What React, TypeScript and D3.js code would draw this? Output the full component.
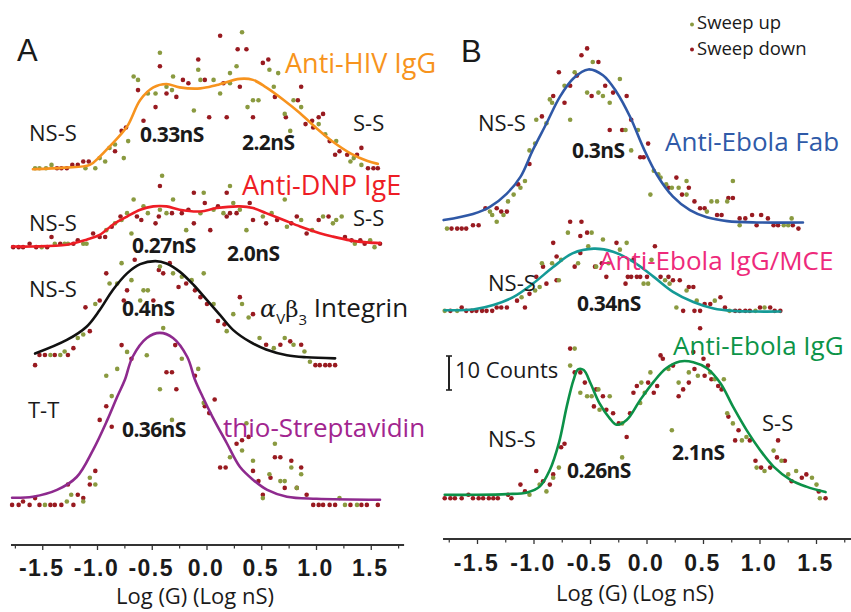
import React from "react";
import * as d3 from "d3";

type P = [number, number];

// ---------- axis ----------
const tickValues = [-1.5, -1.0, -0.5, 0.0, 0.5, 1.0, 1.5];
const tickLabels = ["-1.5", "-1.0", "-0.5", "0.0", "0.5", "1.0", "1.5"];
const minorTickValues = [-1.75, -1.25, -0.75, -0.25, 0.25, 0.75, 1.25, 1.75];
const xLabel = "Log (G) (Log nS)";
const legendLabels = ["Sweep up", "Sweep down"];

// ---------- Panel A ----------
const hivFit: P[] = [[-1.59,-0.3],[-1.3,0.2],[-1.07,1.0],[-0.98,3.4],[-0.89,6.4],[-0.73,12.3],[-0.61,20.1],[-0.49,23.8],[-0.37,24.8],[-0.25,23.8],[-0.06,23.5],[0.09,24.5],[0.30,26.3],[0.42,26],[0.54,23.8],[0.70,20.1],[0.85,16.2],[1.00,11.8],[1.15,7.8],[1.31,4.4],[1.46,2.2],[1.56,1.3]];
const hivUp: P[] = [[-1.57,0],[-1.53,0],[-1.47,0],[-1.42,1],[-1.11,0],[-1.02,0],[-0.98,3],[-0.93,2],[-0.89,6],[-0.84,7],[-0.76,3],[-0.72,8],[-0.67,27],[-0.63,26],[-0.54,22],[-0.47,22],[-0.43,34],[-0.37,24],[-0.32,23],[-0.31,27],[-0.12,17],[-0.08,29],[-0.06,26],[0.06,26],[0.12,22],[0.21,25],[0.21,28],[0.27,30],[0.32,40],[0.37,18],[0.42,20],[0.47,20],[0.57,29],[0.61,24],[0.65,28],[0.71,16],[0.76,11],[0.79,20],[0.86,18],[1.02,13],[1.08,10],[1.18,8],[1.31,2],[1.34,3],[1.41,1]];
const hivDown: P[] = [[-1.37,0],[-1.33,0],[-1.28,0],[-1.23,1],[-1.18,1],[-1.13,2],[-1.08,2],[-0.84,5],[-0.78,11],[-0.74,12],[-0.63,23],[-0.58,14],[-0.47,18],[-0.43,30],[-0.37,22],[-0.28,21],[-0.22,26],[-0.17,25],[-0.08,32],[-0.02,26],[0.02,15],[0.12,39],[0.15,25],[0.18,15],[0.28,35],[0.30,24],[0.36,35],[0.42,15],[0.51,31],[0.56,32],[0.62,21],[0.72,15],[0.83,20],[0.86,24],[0.90,13],[0.96,14],[0.97,12],[1.02,15],[1.06,16],[1.12,8],[1.17,4],[1.21,5],[1.28,4],[1.37,4],[1.41,6],[1.47,0],[1.52,0],[1.56,0]];

const dnpFit: P[] = [[-1.78,0.2],[-1.59,0.2],[-1.28,0.7],[-1.10,2.2],[-0.98,3.6],[-0.86,6.6],[-0.73,9.0],[-0.61,11.0],[-0.49,12.0],[-0.37,12.0],[-0.25,11.0],[-0.06,10.5],[0.09,11.5],[0.30,12.0],[0.42,11.5],[0.54,10.0],[0.70,8.0],[0.85,6.1],[1.03,4.1],[1.15,3.1],[1.31,2.0],[1.46,1.4],[1.58,1.2]];
const dnpUp: P[] = [[-1.51,0],[-1.39,1],[-1.30,1],[-1.27,1],[-1.13,1],[-1.10,1],[-0.92,5],[-0.84,7],[-0.78,8],[-0.73,10],[-0.69,4],[-0.67,14],[-0.58,12],[-0.54,10],[-0.43,11],[-0.41,21],[-0.37,10],[-0.31,14],[-0.19,5],[-0.06,10],[-0.03,16],[0.06,11],[0.15,10],[0.21,18],[0.24,13],[0.30,11],[0.36,5],[0.51,9],[0.59,10],[0.71,14],[0.73,6],[0.86,8],[0.96,5],[1.06,9],[1.15,7],[1.18,8],[1.23,9],[1.35,1],[1.49,2],[1.53,0]];
const dnpDown: P[] = [[-1.77,0],[-1.72,0],[-1.68,0],[-1.62,1],[-1.56,0],[-1.46,0],[-1.42,3],[-1.34,1],[-1.22,1],[-1.18,2],[-1.04,4],[-0.98,3],[-0.93,3],[-0.87,6],[-0.79,9],[-0.64,9],[-0.60,8],[-0.47,7],[-0.44,9],[-0.43,18],[-0.32,10],[-0.23,10],[-0.17,11],[-0.12,7],[-0.12,16],[-0.02,13],[0.03,5],[0.10,12],[0.18,9],[0.18,16],[0.21,10],[0.27,10],[0.39,13],[0.42,8],[0.54,7],[0.64,8],[0.77,7],[0.82,9],[0.91,4],[1.02,8],[1.11,9],[1.26,3],[1.32,2],[1.40,2],[1.44,1],[1.58,1]];

const itgFit: P[] = [[-1.57,3.4],[-1.28,7.4],[-1.10,11.3],[-0.98,16.2],[-0.86,22.1],[-0.73,27],[-0.61,29.7],[-0.47,30.6],[-0.37,29.9],[-0.25,27.5],[-0.12,23.5],[0,19.1],[0.12,14.7],[0.24,10.3],[0.39,6.9],[0.54,4.6],[0.73,2.9],[0.91,2.3],[1.17,2.0]];
const itgUp: P[] = [[-1.43,3],[-1.34,3],[-1.30,4],[-1.18,8],[-1.13,9],[-1.02,18],[-0.89,24],[-0.82,24],[-0.78,30],[-0.69,25],[-0.61,19],[-0.58,22],[-0.54,22],[-0.43,29],[-0.31,27],[-0.23,26],[-0.14,25],[-0.03,27],[0.06,18],[0.18,10],[0.24,15],[0.32,18],[0.38,14],[0.48,8],[0.61,5],[0.71,8],[0.79,6],[0.89,4],[0.94,1]];
const itgDown: P[] = [[-1.57,0],[-1.53,3],[-1.48,3],[-1.39,3],[-1.27,3],[-1.22,5],[-1.11,17],[-1.07,10],[-0.98,19],[-0.92,27],[-0.76,19],[-0.73,22],[-0.66,31],[-0.49,19],[-0.44,28],[-0.40,27],[-0.34,30],[-0.26,23],[-0.19,24],[-0.11,22],[-0.06,20],[0,18],[0.10,13],[0.16,12],[0.30,20],[0.42,15],[0.54,6],[0.67,6],[0.76,7],[0.86,6],[0.99,0],[1.03,0],[1.08,0],[1.12,0],[1.17,0]];

const strFit: P[] = [[-1.78,2.1],[-1.59,2.4],[-1.37,4.4],[-1.19,8.2],[-1.04,16.2],[-0.91,25],[-0.82,31.8],[-0.75,36.8],[-0.68,43.5],[-0.55,49.1],[-0.43,50.6],[-0.31,49.1],[-0.18,43.5],[-0.11,36.8],[-0.04,31.8],[0.05,25.9],[0.18,18.2],[0.30,11.2],[0.42,7.4],[0.55,4.4],[0.73,2.4],[1.0,1.8],[1.58,1.5]];
const strUp: P[] = [[-1.48,0],[-1.28,1],[-1.24,3],[-1.13,1],[-1.07,8],[-1.02,6],[-0.92,38],[-0.87,32],[-0.82,40],[-0.73,45],[-0.55,44],[-0.43,34],[-0.40,52],[-0.32,25],[-0.23,43],[-0.08,40],[-0.03,30],[0.21,14],[0.32,16],[0.36,24],[0.42,13],[0.51,2],[0.57,9],[0.62,18],[0.67,7],[0.71,7],[0.77,11],[0.82,5],[0.86,9],[1.21,2],[1.26,0],[1.37,0]];
const strDown: P[] = [[-1.78,0],[-1.72,0],[-1.68,1],[-1.62,0],[-1.57,2],[-1.53,0],[-1.43,0],[-1.39,0],[-1.33,0],[-1.27,6],[-1.22,0],[-1.18,3],[-1.13,2],[-1.07,6],[-1.02,10],[-0.98,25],[-0.92,29],[-0.87,23],[-0.78,47],[-0.69,43],[-0.37,39],[-0.32,39],[-0.29,47],[-0.28,34],[-0.11,38],[-0.02,29],[0.02,27],[0.07,31],[0.12,11],[0.17,11],[0.27,18],[0.32,19],[0.38,20],[0.42,10],[0.47,7],[0.51,3],[0.58,8],[0.62,14],[0.67,14],[0.71,5],[0.77,13],[0.82,5],[0.86,11],[0.91,3],[0.97,0],[1.02,0],[1.06,0],[1.12,0],[1.17,0],[1.31,0],[1.41,0],[1.46,0],[1.56,0]];

// ---------- Panel B ----------
const fabFit: P[] = [[-1.80,2.5],[-1.54,4.3],[-1.39,6.4],[-1.24,10.3],[-1.12,15.2],[-1.01,23.1],[-0.89,30.9],[-0.77,38.8],[-0.65,44.2],[-0.52,46.8],[-0.39,45.1],[-0.27,40.2],[-0.15,32.9],[-0.03,23.6],[0.09,15.7],[0.23,9.4],[0.38,5.4],[0.53,3.3],[0.71,2.2],[0.97,1.8],[1.38,1.8]];
const fabUp: P[] = [[-1.77,0],[-1.39,5],[-1.37,4],[-1.33,2],[-1.27,4],[-1.23,8],[-1.18,10],[-1.12,12],[-1.08,14],[-1.04,23],[-0.99,25],[-0.98,32],[-0.89,31],[-0.86,38],[-0.84,37],[-0.73,42],[-0.68,32],[-0.64,46],[-0.53,40],[-0.48,49],[-0.43,40],[-0.39,39],[-0.33,37],[-0.24,44],[-0.19,29],[-0.14,23],[-0.08,29],[0.03,10],[0.06,17],[0.10,16],[0.12,15],[0.17,13],[0.22,12],[0.28,12],[0.35,14],[0.35,10],[0.53,5],[0.57,8],[0.62,8],[0.71,8],[0.76,14],[0.82,1],[1.21,1],[1.25,1],[1.28,3]];
const fabDown: P[] = [[-1.73,0],[-1.68,0],[-1.64,0],[-1.60,0],[-1.54,1],[-1.49,1],[-1.43,6],[-1.33,6],[-1.29,5],[-1.24,5],[-1.14,13],[-1.04,19],[-0.93,33],[-0.83,39],[-0.78,46],[-0.73,37],[-0.68,42],[-0.68,2],[-0.62,45],[-0.58,51],[-0.58,2],[-0.53,53],[-0.49,39],[-0.43,49],[-0.37,42],[-0.33,29],[-0.30,40],[-0.22,29],[-0.18,39],[-0.14,32],[-0.06,21],[-0.03,21],[0.01,25],[0.19,12],[0.26,15],[0.31,10],[0.37,12],[0.42,8],[0.47,6],[0.51,6],[0.62,4],[0.66,4],[0.72,9],[0.76,9],[0.82,3],[0.87,3],[0.93,4],[0.97,1],[1.01,4],[1.07,3],[1.12,1],[1.16,1],[1.29,1],[1.34,0]];

const mceFit: P[] = [[-1.79,0.2],[-1.54,0.4],[-1.36,1.7],[-1.18,4.1],[-1.01,8.0],[-0.83,12.9],[-0.66,16.9],[-0.47,18.3],[-0.30,17.4],[-0.12,14.4],[0.06,10],[0.23,5.6],[0.41,2.6],[0.59,0.7],[0.76,0],[0.97,-0.2],[1.18,-0.2]];
const mceUp: P[] = [[-1.79,0],[-1.68,0],[-1.11,4],[-0.99,6],[-0.95,7],[-0.93,14],[-0.84,14],[-0.78,9],[-0.76,15],[-0.70,23],[-0.61,14],[-0.52,19],[-0.49,23],[-0.45,13],[-0.39,21],[-0.34,14],[-0.24,18],[-0.18,20],[-0.03,8],[0.01,8],[0.04,15],[0.16,9],[0.20,8],[0.26,1],[0.35,6],[0.44,3],[0.60,3],[0.73,0],[0.96,0],[1.04,1]];
const mceDown: P[] = [[-1.74,0],[-1.64,1],[-1.60,0],[-1.55,0],[-1.51,0],[-1.46,0],[-1.42,0],[-1.37,0],[-1.33,1],[-1.29,1],[-1.24,1],[-1.15,3],[-1.08,1],[-1.04,5],[-0.98,10],[-0.92,13],[-0.89,8],[-0.83,20],[-0.80,9],[-0.80,16],[-0.64,13],[-0.59,17],[-0.59,22],[-0.53,23],[-0.46,13],[-0.40,14],[-0.36,10],[-0.27,20],[-0.19,8],[-0.17,10],[-0.14,10],[-0.12,15],[-0.09,10],[-0.06,10],[0,10],[0.07,19],[0.12,10],[0.19,10],[0.23,9],[0.29,9],[0.32,0],[0.37,7],[0.41,7],[0.42,0],[0.47,0],[0.51,2],[0.56,2],[0.65,4],[0.69,1],[0.78,0],[0.82,0],[0.87,0],[0.91,0],[1.0,1],[1.09,1],[1.13,0],[1.18,0]];

const iggFit: P[] = [[-1.79,1.0],[-1.54,1.0],[-1.24,1.2],[-1.06,1.7],[-0.95,3.4],[-0.86,8.3],[-0.78,16.2],[-0.71,27],[-0.65,34.8],[-0.61,37.9],[-0.56,37.7],[-0.50,33.8],[-0.42,27.9],[-0.33,23.5],[-0.27,21.6],[-0.18,23],[-0.06,28.9],[0.06,34.3],[0.17,38.2],[0.29,40.2],[0.41,40],[0.53,38.2],[0.65,33.8],[0.76,27],[0.88,20.1],[1.0,14.2],[1.12,9.3],[1.27,5.4],[1.41,3.4],[1.58,1.8]];
const iggUp: P[] = [[-1.04,1],[-0.95,4],[-0.89,2],[-0.83,6],[-0.78,9],[-0.68,39],[-0.64,44],[-0.59,31],[-0.53,30],[-0.49,30],[-0.43,32],[-0.42,26],[-0.33,30],[-0.22,22],[-0.22,12],[-0.06,28],[-0.05,34],[-0.02,31],[0.03,37],[0.19,38],[0.22,20],[0.28,34],[0.37,37],[0.45,36],[0.56,37],[0.60,35],[0.68,35],[0.71,25],[0.76,22],[0.84,17],[0.88,18],[0.97,9],[1.04,8],[1.12,14],[1.19,11],[1.25,7],[1.32,8],[1.46,6],[1.50,4],[1.53,0]];
const iggDown: P[] = [[-1.79,0],[-1.74,0],[-1.70,0],[-1.64,0],[-1.58,1],[-1.54,0],[-1.49,0],[-1.45,0],[-1.40,0],[-1.36,0],[-1.32,0],[-1.23,1],[-1.20,0],[-1.12,4],[-1.08,2],[-0.98,8],[-0.92,5],[-0.86,4],[-0.83,7],[-0.76,15],[-0.73,16],[-0.68,44],[-0.64,37],[-0.59,37],[-0.55,34],[-0.47,27],[-0.45,32],[-0.39,30],[-0.36,26],[-0.30,25],[-0.25,22],[-0.18,18],[-0.15,25],[-0.12,31],[-0.09,33],[0.01,34],[0.06,31],[0.09,33],[0.12,42],[0.14,41],[0.23,39],[0.28,30],[0.32,32],[0.37,34],[0.41,43],[0.42,38],[0.47,50],[0.50,41],[0.51,36],[0.54,39],[0.57,35],[0.63,33],[0.66,32],[0.72,24],[0.78,17],[0.81,20],[0.91,17],[0.96,11],[1.01,9],[1.09,9],[1.15,12],[1.16,17],[1.22,11],[1.28,5],[1.37,6],[1.41,7],[1.52,2],[1.58,0]];

const scaleBarCounts = 10;

// ---------- styles ----------
const UP = "#8a9a40";
const DOWN = "#981a20";
const SANS = "'Open Sans', 'Noto Sans', sans-serif";
const ARIAL = "'Liberation Sans', Arial, sans-serif";
const INK = "#1a1a1a";

type Series = { up: P[]; down: P[]; fit: P[]; offset: number; color: string };

const seriesA: Series[] = [
  { up: hivUp, down: hivDown, fit: hivFit, offset: 110.8, color: "#f7931e" },
  { up: dnpUp, down: dnpDown, fit: dnpFit, offset: 87.6, color: "#ee1d25" },
  { up: itgUp, down: itgDown, fit: itgFit, offset: 52.9, color: "#111111" },
  { up: strUp, down: strDown, fit: strFit, offset: 11.8, color: "#8e2a8e" },
];
const seriesB: Series[] = [
  { up: fabUp, down: fabDown, fit: fabFit, offset: 91.3, color: "#2f58a6" },
  { up: mceUp, down: mceDown, fit: mceFit, offset: 67.1, color: "#149a96" },
  { up: iggUp, down: iggDown, fit: iggFit, offset: 12.0, color: "#0c9148" },
];

function Panel({ series, x, y }: { series: Series[]; x: d3.ScaleLinear<number, number>; y: d3.ScaleLinear<number, number> }) {
  return (
    <g>
      {series.map((s, i) => {
        const line = d3
          .line<P>()
          .x((d) => x(d[0]))
          .y((d) => y(d[1] + s.offset))
          .curve(d3.curveCatmullRom.alpha(0.5));
        return (
          <g key={i}>
            {s.down.map((d, j) => (
              <circle key={"d" + j} cx={x(d[0])} cy={y(d[1] + s.offset)} r={2.3} fill={DOWN} />
            ))}
            {s.up.map((d, j) => (
              <circle key={"u" + j} cx={x(d[0])} cy={y(d[1] + s.offset)} r={2.3} fill={UP} />
            ))}
            <path d={line(s.fit) || ""} fill="none" stroke={s.color} strokeWidth={2.6} strokeLinecap="round" />
          </g>
        );
      })}
    </g>
  );
}

function Axis({ x, y0, extent, labelY, titleY }: { x: d3.ScaleLinear<number, number>; y0: number; extent: [number, number]; labelY: number; titleY: number }) {
  return (
    <g>
      <line x1={x(extent[0])} x2={x(extent[1])} y1={y0} y2={y0} stroke="#333" strokeWidth={1.8} />
      {tickValues.map((t) => (
        <line key={"M" + t} x1={x(t)} x2={x(t)} y1={y0} y2={y0 + 5} stroke="#333" strokeWidth={1.3} />
      ))}
      {minorTickValues.map((t) => (
        <line key={"m" + t} x1={x(t)} x2={x(t)} y1={y0} y2={y0 + 3.5} stroke="#333" strokeWidth={1.2} />
      ))}
      {tickValues.map((t, i) => (
        <text key={"l" + t} x={x(t) - 1} y={labelY} textAnchor="middle" fontFamily={ARIAL} fontWeight="bold" fontSize={23} letterSpacing={1.5} fill={INK}>
          {tickLabels[i]}
        </text>
      ))}
      <text x={x(0) - 12} y={titleY} textAnchor="middle" fontFamily={SANS} fontSize={22} fill={INK}>
        {xLabel}
      </text>
    </g>
  );
}

const T = ({ x, y, children, size = 22, bold = false, color = INK, family = SANS }: any) => (
  <text x={x} y={y} fontFamily={family} fontSize={size} fontWeight={bold ? "bold" : "normal"} fill={color} letterSpacing={bold ? -0.6 : 0}>
    {children}
  </text>
);

export default function App() {
  const xA = d3.scaleLinear().domain([-1.5, 1.5]).range([42.75, 371.25]);
  const yA = d3.scaleLinear().domain([0, 100]).range([545, 205]);
  const xB = d3.scaleLinear().domain([-1.5, 1.5]).range([477.5, 816.5]);
  const yB = d3.scaleLinear().domain([0, 100]).range([539, 199]);

  const barTop = 356;
  const barLen = yB(0) - yB(scaleBarCounts);

  return (
    <svg width={851} height={612} viewBox="0 0 851 612" style={{ position: "absolute", left: 0, top: 0, background: "#fff" }}>
      <rect x={0} y={0} width={851} height={612} fill="#fff" />
      <Panel series={seriesA} x={xA} y={yA} />
      <Panel series={seriesB} x={xB} y={yB} />
      <Axis x={xA} y0={545} extent={[-1.79, 1.8]} labelY={576} titleY={604} />
      <Axis x={xB} y0={539} extent={[-1.805, 1.81]} labelY={571} titleY={601} />

      {/* panel letters */}
      <T x={17} y={61} size={31} family={ARIAL}>A</T>
      <T x={461} y={62} size={31} family={ARIAL}>B</T>

      {/* legend */}
      <circle cx={692} cy={24.5} r={2} fill={UP} />
      <circle cx={692} cy={49.5} r={2} fill={DOWN} />
      <T x={697} y={29} size={18.5}>{legendLabels[0]}</T>
      <T x={697} y={54.5} size={18.5}>{legendLabels[1]}</T>

      {/* Panel A labels */}
      <T x={285} y={73} size={27} color="#f7941d">Anti-HIV IgG</T>
      <T x={29} y={141}>NS-S</T>
      <T x={140} y={142} bold size={21}>0.33nS</T>
      <T x={242} y={150} bold size={21}>2.2nS</T>
      <T x={353} y={131}>S-S</T>

      <T x={242} y={195} size={27} color="#ee1d25">Anti-DNP IgE</T>
      <T x={29} y={231}>NS-S</T>
      <T x={353} y={226}>S-S</T>
      <T x={132} y={253} bold size={21}>0.27nS</T>
      <T x={227} y={261} bold size={21}>2.0nS</T>

      <T x={29} y={297}>NS-S</T>
      <T x={122} y={316} bold size={21}>0.4nS</T>
      <text x={260} y={317} fontFamily={SANS} fontSize={25} fill={INK}>
        <tspan fontFamily="'DejaVu Serif', serif" fontStyle="italic" fontSize={24}>α</tspan>
        <tspan dy={7} fontSize={15}>V</tspan>
        <tspan dy={-7} fontFamily="'DejaVu Serif', serif" fontSize={23}>β</tspan>
        <tspan dy={8} fontSize={15}>3</tspan>
        <tspan dy={-8} fontSize={26}> Integrin</tspan>
      </text>

      <T x={28} y={418}>T-T</T>
      <T x={122} y={437} bold size={21}>0.36nS</T>
      <T x={223} y={437} size={26} color="#a2258f">thio-Streptavidin</T>

      {/* Panel B labels */}
      <T x={478} y={131}>NS-S</T>
      <T x={572} y={158} bold size={21}>0.3nS</T>
      <T x={665} y={151} size={26} color="#2f5aa8">Anti-Ebola Fab</T>

      <T x={488} y={291}>NS-S</T>
      <T x={577} y={311} bold size={21}>0.34nS</T>
      <T x={599} y={270} size={26} color="#ee2a7b">Anti-Ebola IgG/MCE</T>

      {/* scale bar */}
      <line x1={449} x2={449} y1={barTop} y2={barTop + barLen} stroke="#222" strokeWidth={2} />
      <line x1={446} x2={452} y1={barTop} y2={barTop} stroke="#222" strokeWidth={1.6} />
      <line x1={446} x2={452} y1={barTop + barLen} y2={barTop + barLen} stroke="#222" strokeWidth={1.6} />
      <T x={455} y={378}>10 Counts</T>

      <T x={673} y={355} size={26} color="#0c9448">Anti-Ebola IgG</T>
      <T x={488} y={447}>NS-S</T>
      <T x={567} y={478} bold size={21}>0.26nS</T>
      <T x={672} y={460} bold size={21}>2.1nS</T>
      <T x={762} y={431}>S-S</T>
    </svg>
  );
}
